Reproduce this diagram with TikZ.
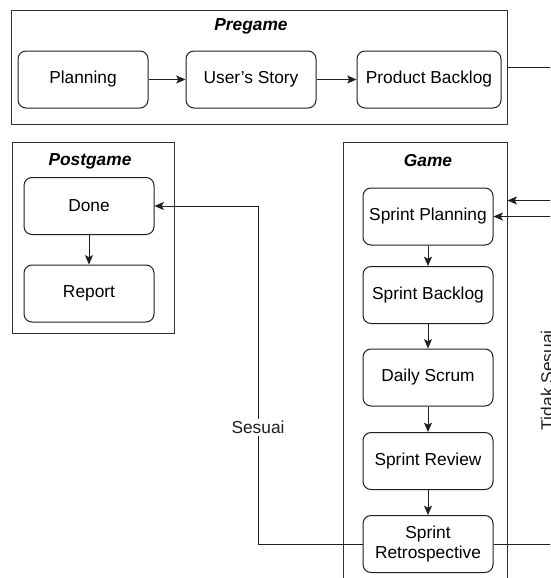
\documentclass[tikz,border=0pt]{standalone}
\usepackage{fontspec}
\setmainfont{Liberation Sans}
\usepackage{tikz}
\usetikzlibrary{arrows.meta,positioning,fit}
\definecolor{linec}{HTML}{1F1F1F}
\definecolor{framec}{HTML}{333333}
\tikzset{
  ar/.style={-{Stealth[length=7pt,width=6pt,inset=1.5pt]},line width=0.75pt,linec},
  box/.style={draw=linec,line width=0.75pt,rounded corners=6pt,fill=white,align=center,minimum width=97.5pt,minimum height=42.75pt,inner sep=2pt,font=\fontsize{13}{14.5}\selectfont},
  frame/.style={draw=framec,line width=0.75pt,inner sep=0pt},
  ttl/.style={font=\fontsize{13}{15}\selectfont\bfseries\itshape},
  lbl/.style={fill=white,inner sep=1.5pt,font=\fontsize{13}{15}\selectfont}
}

\begin{document}
\begin{tikzpicture}[x=0.75pt,y=-0.75pt]
\useasboundingbox (0,0) rectangle (550,578);
\fill[white] (0,0) rectangle (550,578);
\clip (0,0) rectangle (550,578);
% frames
\node[frame,fit={(11,10) (507,124)}] (pregame) {};
\node[frame,fit={(12,142) (174,333)}] (postgame) {};
\node[frame,fit={(343,142) (507,610)}] (game) {};
\node[ttl] (pretitle) at (251,26) {Pregame};
\node[ttl] (posttitle) at (90,161) {Postgame};
\node[ttl] (gametitle) at (428,161) {Game};
% pregame
\node[box] (plan) at (83,79.5) {Planning};
\node[box] (story) at (251,79.5) {User's Story};
\node[box,minimum width=108pt] (pbl) at (429,79.5) {Product Backlog};
% postgame
\node[box] (done) at (89,206) {Done};
\node[box] (report) at (89,293.5) {Report};
% game
\node[box] (sp) at (428,216.5) {Sprint Planning};
\node[box] (sb) at (428,295) {Sprint Backlog};
\node[box] (ds) at (428,377.5) {Daily Scrum};
\node[box] (sr) at (428,461) {Sprint Review};
\node[box] (retro) at (428,544) {Sprint\\Retrospective};

\draw[ar] (plan) -- (story);
\draw[ar] (story) -- (pbl);
\draw[ar] (done) -- (report);
\draw[ar] (sp) -- (sb);
\draw[ar] (sb) -- (ds);
\draw[ar] (ds) -- (sr);
\draw[ar] (sr) -- (retro);

\coordinate (sesbend) at (258,206);
\coordinate (tsbend) at (556,216.5);
\coordinate (prebend) at (575,200.5);
\draw[ar] (retro.west) -| (sesbend) node[lbl,pos=0.6725] {Sesuai} -- (done.east);
\draw[ar] (retro.east) -| (tsbend) node[lbl,pos=0.75,rotate=90,anchor=south] {Tidak Sesuai} -- (sp.east);
\draw[ar] (pregame.east) -| (prebend) -- (game.east |- prebend);
\end{tikzpicture}
\end{document}
